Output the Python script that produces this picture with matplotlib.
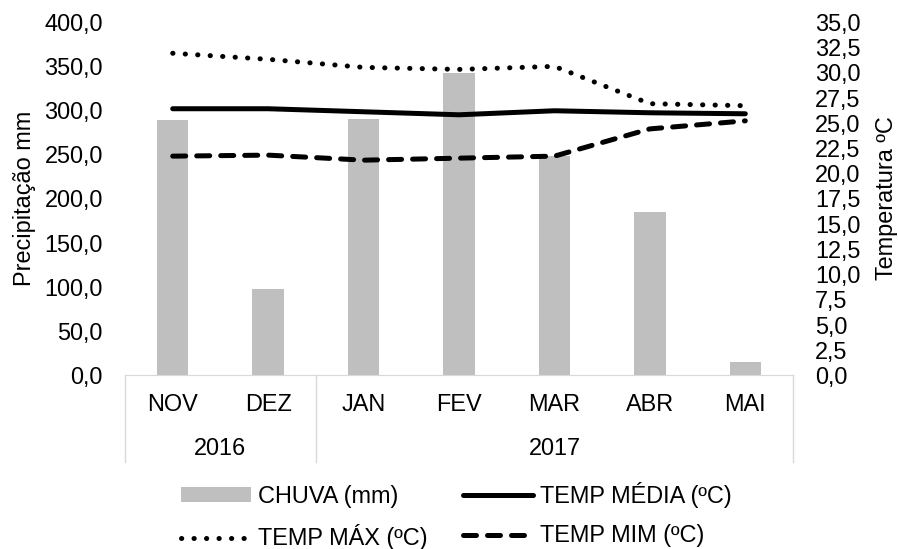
import numpy as np
import matplotlib
matplotlib.use("Agg")
import matplotlib.pyplot as plt
import matplotlib.transforms as mtransforms
from matplotlib.ticker import FuncFormatter, MultipleLocator

plt.rcParams['font.family'] = ['Liberation Sans', 'DejaVu Sans']

meses = ['NOV', 'DEZ', 'JAN', 'FEV', 'MAR', 'ABR', 'MAI']
anos = ['2016', '2017']
anos_meses = [[0, 1], [2, 3, 4, 5, 6]]
chuva = [288.6, 97.5, 290.4, 342.2, 248.0, 185.0, 14.4]
temp_media = [26.4, 26.4, 26.1, 25.8, 26.2, 26.0, 25.9]
temp_max = [31.9, 31.3, 30.5, 30.3, 30.6, 26.9, 26.7]
temp_min = [21.7, 21.8, 21.3, 21.5, 21.7, 24.4, 25.2]

fs = 16.9
cinza_eixo = '#D9D9D9'

fig = plt.figure(figsize=(8.98, 5.49), dpi=100)
ax = fig.add_axes([125 / 898, 1 - 375 / 549, (793 - 125) / 898, (375 - 22) / 549])
ax2 = ax.twinx()

x = np.arange(len(meses))
b = ax.bar(x, chuva, width=0.33, color='#BFBFBF', label='CHUVA (mm)')

lw = 3.6
l1, = ax2.plot(x, temp_media, color='black', lw=lw, solid_capstyle='round',
               label='TEMP MÉDIA (ºC)')
l2, = ax2.plot(x, temp_max, color='black', lw=lw, linestyle=(0, (0.05, 2.45)),
               dash_capstyle='round', label='TEMP MÁX (ºC)')
l3, = ax2.plot(x, temp_min, color='black', lw=lw, linestyle=(0, (2.6, 2.2)),
               dash_capstyle='round', label='TEMP MIM (ºC)')

ax.set_xlim(-0.5, len(meses) - 0.5)
ax.set_ylim(0, 400)
ax2.set_ylim(0, 35)
ax.yaxis.set_major_locator(MultipleLocator(50))
ax2.yaxis.set_major_locator(MultipleLocator(2.5))
virgula = FuncFormatter(lambda v, p: f'{v:.1f}'.replace('.', ','))
ax.yaxis.set_major_formatter(virgula)
ax2.yaxis.set_major_formatter(virgula)

for a in (ax, ax2):
    for s in ('top', 'left', 'right'):
        a.spines[s].set_visible(False)
    a.spines['bottom'].set_color(cinza_eixo)
    a.tick_params(axis='y', length=0, labelsize=fs, pad=16)
ax2.spines['bottom'].set_visible(False)

ax.set_xticks(x)
ax.set_xticklabels(meses)
ax.tick_params(axis='x', length=0, labelsize=fs, pad=13)

ax.set_ylabel('Precipitação mm', fontsize=fs, labelpad=6)
ax2.set_ylabel('Temperatura ºC', fontsize=fs, labelpad=10)

# segundo nivel do eixo de categorias
trans = mtransforms.blended_transform_factory(ax.transData, ax.transAxes)
for ano, idx in zip(anos, anos_meses):
    ax.text(np.mean(idx), -0.207, ano, transform=trans, ha='center', va='center',
            fontsize=fs)
divisas = [-0.5] + [idx[-1] + 0.5 for idx in anos_meses]
for d in divisas:
    ax.plot([d, d], [0, -0.246], transform=trans, color=cinza_eixo, lw=1,
            clip_on=False)

fig.legend(handles=[b, l2, l1, l3],
           labels=['CHUVA (mm)', 'TEMP MÁX (ºC)', 'TEMP MÉDIA (ºC)', 'TEMP MIM (ºC)'],
           ncol=2, loc='center', bbox_to_anchor=(456.5 / 898, 1 - 516 / 549),
           frameon=False, fontsize=fs, handlelength=3.0, handleheight=0.55,
           handletextpad=0.3, columnspacing=1.5, labelspacing=0.7,
           borderpad=0, borderaxespad=0)

fig.savefig('out.png', dpi=100)
